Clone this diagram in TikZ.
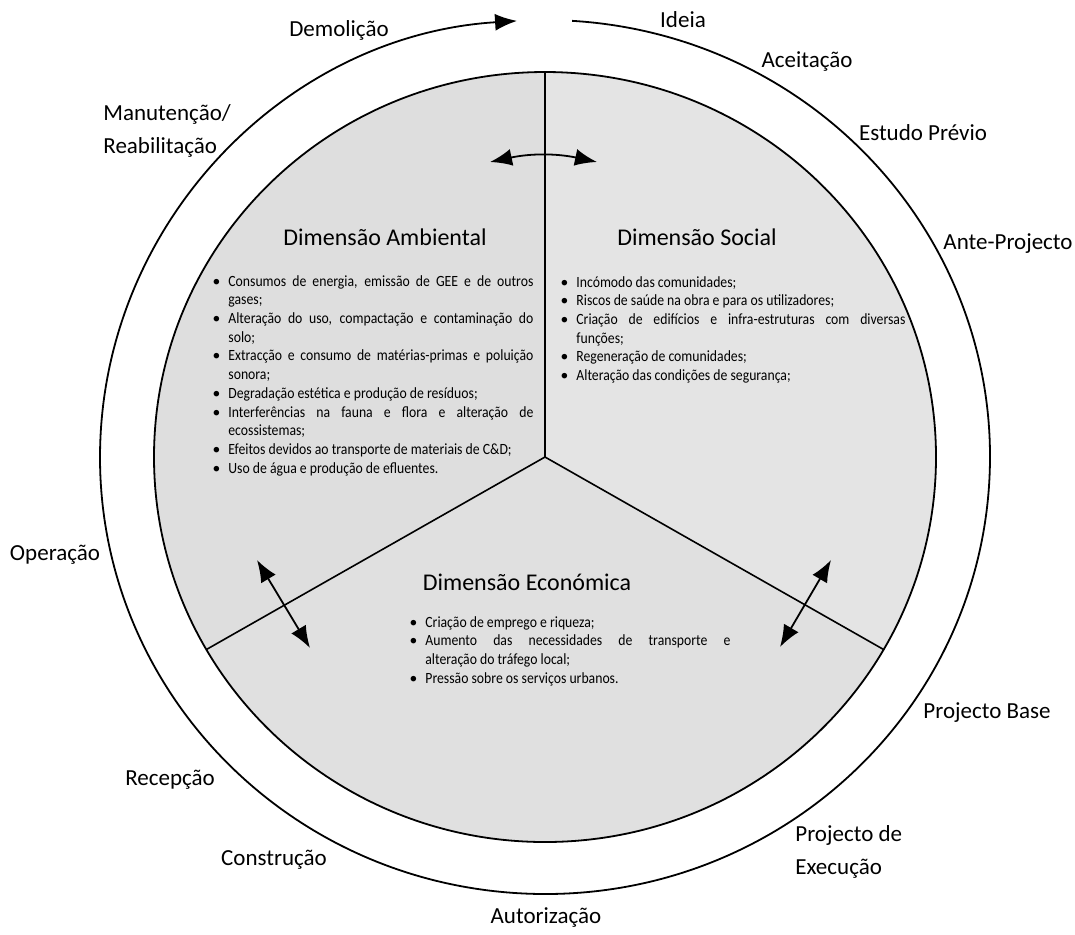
\documentclass[tikz,border=0pt]{standalone}
\usepackage{fontspec}
\setmainfont{Carlito}
\newfontfamily\listfont[FakeStretch=0.88]{Carlito}
\usepackage{enumitem}
\usetikzlibrary{arrows.meta}
\newcommand{\dimitems}[1]{\hyphenpenalty=10000\relax\begin{itemize}[leftmargin=10pt,labelsep=4pt,itemsep=0pt,topsep=0pt,parsep=0pt,partopsep=0pt]#1\end{itemize}}
\tikzset{
  stage/.style={font=\fontsize{11.5}{16.5}\selectfont,align=left,inner sep=0pt},
  dimtitle/.style={font=\fontsize{12}{15}\selectfont,inner sep=0pt},
  dimlist/.style={font=\listfont\fontsize{7.8}{9.35}\selectfont,align=justify,inner sep=0pt,anchor=north west},
  link/.style={line width=0.9pt,{Latex[length=11pt,width=8.5pt]}-{Latex[length=11pt,width=8.5pt]}},
}

\begin{document}
\begin{tikzpicture}[x=0.5pt,y=0.5pt]
\useasboundingbox (0,0) rectangle (1075,-934);
\coordinate (hub) at (545,-457);
% the three dimensions
\fill[gray!26] (hub) -- ++(90:391 and 385) arc[start angle=90,end angle=210,x radius=391,y radius=385] -- cycle;
\fill[gray!24] (hub) -- ++(210:391 and 385) arc[start angle=210,end angle=330,x radius=391,y radius=385] -- cycle;
\fill[gray!21] (hub) -- ++(330:391 and 385) arc[start angle=330,end angle=450,x radius=391,y radius=385] -- cycle;
\draw[line width=0.9pt] (hub) ellipse[x radius=391,y radius=385];
\foreach \a in {90,210,330} {\draw[line width=0.8pt] (hub) -- ++(\a:391 and 385);}
% life cycle
\draw[line width=0.9pt,-{Latex[length=11pt,width=8.5pt]}] (hub) ++(86.5:445 and 437) arc[start angle=86.5,end angle=-266.4,x radius=445,y radius=437];
\node[stage] (ideia) at (683,-20) {Ideia};
\node[stage] (aceit) at (807,-62) {Aceitação};
\node[stage] (estudo) at (923,-133) {Estudo Prévio};
\node[stage] (ante) at (1008,-244) {Ante-Projecto};
\node[stage] (base) at (987,-713) {Projecto Base};
\node[stage,anchor=west] (exec) at (795,-852) {Projecto de\\Execução};
\node[stage] (autor) at (546,-917) {Autorização};
\node[stage] (constr) at (274,-860) {Construção};
\node[stage] (recep) at (170,-780) {Recepção};
\node[stage] (oper) at (55,-555) {Operação};
\node[stage,anchor=west] (manut) at (103,-131) {Manutenção/\\Reabilitação};
\node[stage] (demol) at (339,-30) {Demolição};
% titles
\node[dimtitle] (tamb) at (385,-237) {Dimensão Ambiental};
\node[dimtitle] (tsoc) at (697,-237) {Dimensão Social};
\node[dimtitle] (teco) at (527,-582) {Dimensão Económica};
% lists
\node[dimlist,text width=162.5pt] (lamb) at (208,-267) {\dimitems{
\item Consumos de energia, emissão de GEE e de outros\linebreak gases;
\item Alteração do uso, compactação e contaminação do\linebreak solo;
\item Extracção e consumo de matérias-primas e poluição\linebreak sonora;
\item Degradação estética e produção de resíduos;
\item Interferências na fauna e flora e alteração de\linebreak ecossistemas;
\item Efeitos devidos ao transporte de materiais de C\&D;
\item Uso de água e produção de efluentes.}};
\node[dimlist,text width=174.5pt] (lsoc) at (556,-268) {\dimitems{
\item Incómodo das comunidades;
\item Riscos de saúde na obra e para os utilizadores;
\item Criação de edifícios e infra-estruturas com diversas\linebreak funções;
\item Regeneração de comunidades;
\item Alteração das condições de segurança;}};
\node[dimlist,text width=162.5pt] (leco) at (405,-608) {\dimitems{
\item Criação de emprego e riqueza;
\item Aumento das necessidades de transporte e\linebreak alteração do tráfego local;
\item Pressão sobre os serviços urbanos.}};
% interactions
\coordinate (ta) at (490,-162);
\coordinate (tb) at (597,-162);
\coordinate (la) at (257,-560);
\coordinate (lb) at (310,-648);
\coordinate (ra) at (831,-560);
\coordinate (rb) at (780,-647);
\draw[link] (ta) to[bend left=12] (tb);
\draw[link] (la) -- (lb);
\draw[link] (ra) -- (rb);
\end{tikzpicture}
\end{document}
